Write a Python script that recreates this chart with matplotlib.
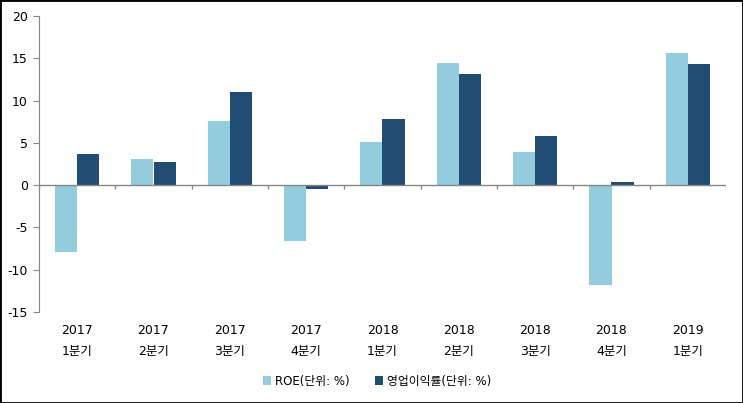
import matplotlib
matplotlib.use("Agg")
import matplotlib.pyplot as plt
import numpy as np

plt.rcParams['font.family'] = ['DejaVu Sans', 'Noto Sans CJK KR']
plt.rcParams['axes.unicode_minus'] = False

years = ["2017", "2017", "2017", "2017", "2018", "2018", "2018", "2018", "2019"]
quarters = ["1분기", "2분기", "3분기", "4분기", "1분기", "2분기", "3분기", "4분기", "1분기"]
roe = [-7.9, 3.1, 7.6, -6.6, 5.1, 14.4, 3.9, -11.8, 15.6]
op_margin = [3.7, 2.7, 11.0, -0.4, 7.8, 13.1, 5.8, 0.4, 14.3]
series_names = ["ROE(단위: %)", "영업이익률(단위: %)"]
yticks = [-15, -10, -5, 0, 5, 10, 15, 20]

c_light = "#93CDDD"
c_dark = "#214C74"
axis_gray = "#868686"

fig = plt.figure(figsize=(7.43, 4.03), dpi=100)
ax = fig.add_axes([39/743, 1-312/403, (726-39)/743, (312-16)/403])

x = np.arange(len(years))
w = 0.29
ax.bar(x - w/2, roe, w, color=c_light, label=series_names[0], zorder=2)
ax.bar(x + w/2, op_margin, w, color=c_dark, label=series_names[1], zorder=2)

ax.set_xlim(-0.5, len(years) - 0.5)
ax.set_ylim(-15, 20)
ax.set_yticks(yticks)
ax.tick_params(axis='y', direction='out', length=4, color=axis_gray, labelsize=9, pad=4)

for s in ['top', 'right', 'bottom']:
    ax.spines[s].set_visible(False)
ax.spines['left'].set_color(axis_gray)

# zero line with boundary ticks
ax.axhline(0, color=axis_gray, lw=1, zorder=3)
bounds = np.arange(len(years) + 1) - 0.5
ax.vlines(bounds, -0.5, 0, color=axis_gray, lw=1, zorder=3)

labels = [f"{y}\n{q}" for y, q in zip(years, quarters)]
ax.set_xticks(x)
ax.set_xticklabels(labels, fontsize=9, linespacing=1.7,
                   family=['DejaVu Sans', 'Noto Sans CJK KR'])
ax.tick_params(axis='x', length=0, pad=9)

leg = fig.legend(loc='center', bbox_to_anchor=(377/743, 1-381/403), ncol=2,
                 frameon=False, handlelength=0.7, handleheight=0.7,
                 handletextpad=0.3, columnspacing=2.2,
                 prop={'family': ['DejaVu Sans', 'Noto Sans CJK KR'], 'size': 8.5})

# figure border
fig.patches.append(plt.Rectangle((0, 0), 1, 1, transform=fig.transFigure,
                                 fill=False, edgecolor='black', lw=2))

fig.savefig("out.png", dpi=100)
